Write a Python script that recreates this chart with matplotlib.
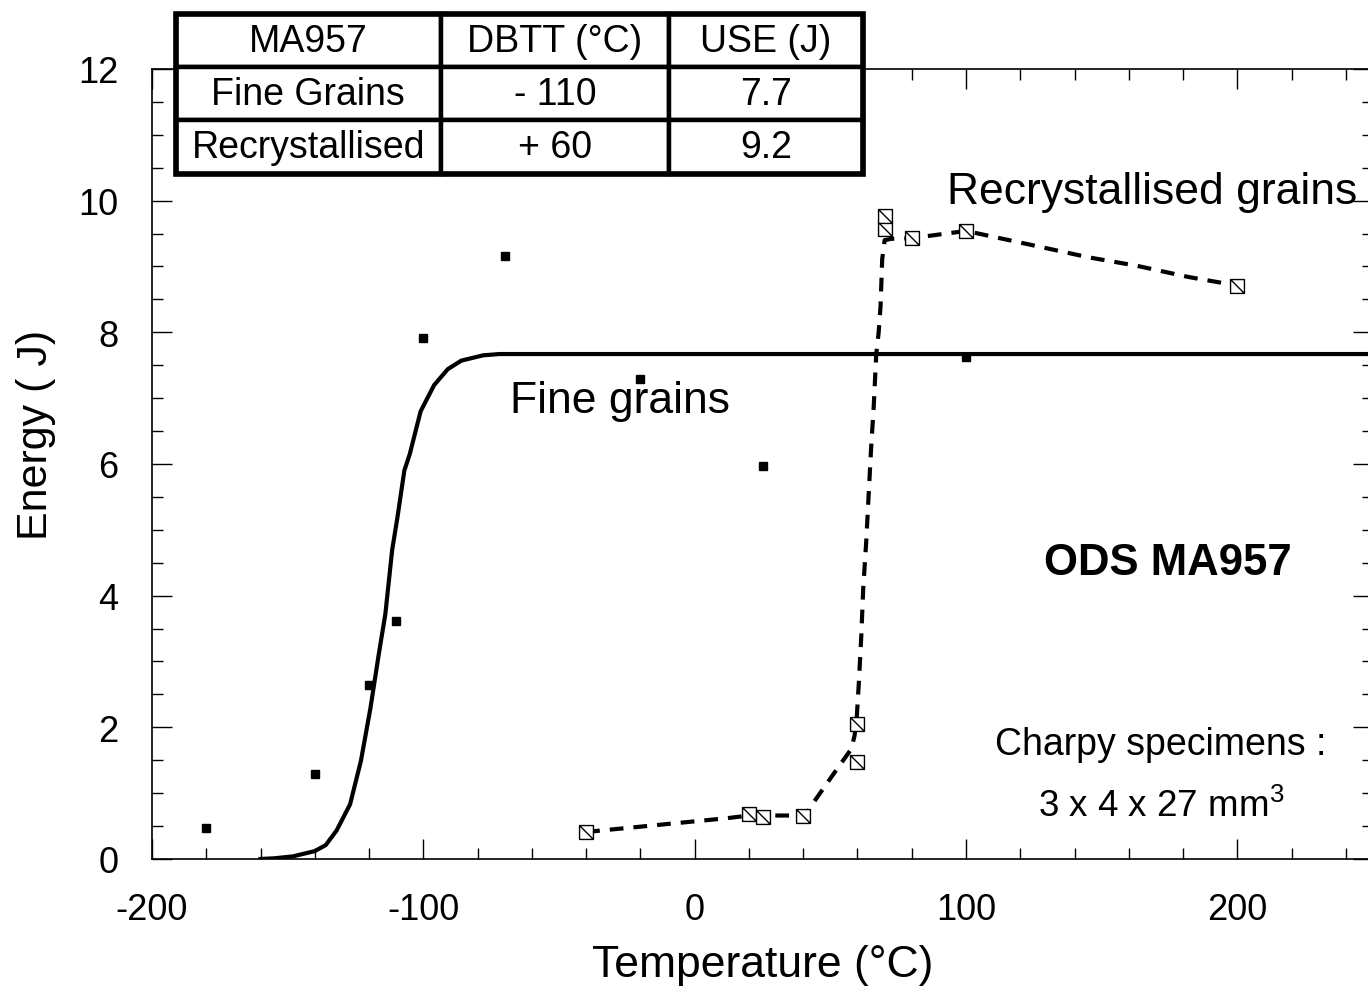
import matplotlib
matplotlib.use('Agg')
import matplotlib.pyplot as plt
from matplotlib.path import Path
from matplotlib.ticker import MultipleLocator

plt.rcParams['font.family'] = ['Liberation Sans', 'DejaVu Sans']
plt.rcParams['axes.unicode_minus'] = False
plt.rcParams['mathtext.fontset'] = 'custom'
plt.rcParams['mathtext.rm'] = 'Liberation Sans'
plt.rcParams['mathtext.it'] = 'Liberation Sans:italic'

# fine grains - measured charpy energies (filled squares)
fine_T = [-180, -140, -120, -110, -100, -70, -20, 25, 100]
fine_E = [0.47, 1.29, 2.64, 3.62, 7.91, 9.16, 7.29, 5.97, 7.63]

# fine grains - fitted transition curve (solid line)
fine_fit_T = [-160, -155, -148, -140, -136, -132, -127, -123, -119.5, -116.5, -114,
              -111.5, -109.5, -107, -105, -101, -96, -91, -86, -78, -72, 250]
fine_fit_E = [0.0, 0.01, 0.04, 0.12, 0.21, 0.43, 0.83, 1.49, 2.29, 3.09, 3.72,
              4.69, 5.2, 5.9, 6.15, 6.8, 7.2, 7.44, 7.57, 7.65, 7.67, 7.67]

# recrystallised grains - measured charpy energies (open squares)
recr_T = [-40, 20, 25, 40, 60, 60, 70, 70, 80, 100, 200]
recr_E = [0.41, 0.68, 0.64, 0.66, 1.48, 2.05, 9.57, 9.76, 9.43, 9.54, 8.71]

# recrystallised grains - fitted curve (dashed line)
recr_fit_T = [-40, 12, 20, 29, 41, 43.5, 50.8, 57.7, 58.9, 59.7, 60.5, 61.4, 62.1,
              63.2, 64.1, 65.0, 66.0, 66.9, 67.8, 68.5, 69.1, 70, 72.4, 80, 100,
              126, 145, 163, 182, 200]
recr_fit_E = [0.41, 0.62, 0.66, 0.66, 0.66, 0.84, 1.27, 1.67, 1.87, 2.13, 2.68, 3.39, 4.10,
              4.81, 5.52, 6.23, 6.89, 7.66, 8.0, 8.4, 9.11, 9.4, 9.42, 9.43, 9.54,
              9.31, 9.14, 9.01, 8.84, 8.71]

# summary table
table_cols = ['MA957', 'DBTT (°C)', 'USE (J)']
table_rows = [['Fine Grains', '- 110', '7.7'],
              ['Recrystallised', '+ 60', '9.2']]

# square with a diagonal from top-left to bottom-right
box_marker = Path([(-1, -1), (1, -1), (1, 1), (-1, 1), (-1, -1), (-1, 1), (1, -1)],
                  [Path.MOVETO, Path.LINETO, Path.LINETO, Path.LINETO, Path.CLOSEPOLY,
                   Path.MOVETO, Path.LINETO])

fig = plt.figure(figsize=(13.68, 9.87), dpi=100)
ax = fig.add_axes([0.1111, 0.1287, 0.8926, 0.8004])

ax.plot(fine_fit_T, fine_fit_E, color='black', lw=3.0, solid_joinstyle='round', zorder=2)
ax.plot(recr_fit_T, recr_fit_E, color='black', lw=3.0, linestyle=(0, (3.3, 2.4)), zorder=2)
ax.plot(fine_T, fine_E, linestyle='none', marker='s', markersize=6,
        color='black', zorder=3)
ax.plot(recr_T, recr_E, linestyle='none', marker=box_marker, markersize=10,
        markerfacecolor='white', markeredgecolor='black', markeredgewidth=1.0, zorder=3)

ax.set_xlim(-200, 250)
ax.set_ylim(0, 12)
ax.xaxis.set_major_locator(MultipleLocator(100))
ax.xaxis.set_minor_locator(MultipleLocator(20))
ax.yaxis.set_major_locator(MultipleLocator(2))
ax.yaxis.set_minor_locator(MultipleLocator(0.5))
ax.tick_params(which='both', direction='in', top=True, right=True, width=1.0)
ax.tick_params(which='major', length=14.5, labelsize=26, pad=24)
ax.tick_params(which='minor', length=8)
for sp in ax.spines.values():
    sp.set_linewidth(1.2)

ax.set_xlabel('Temperature (°C)', fontsize=32, labelpad=12)
ax.set_ylabel('Energy ( J)', fontsize=31)
ax.yaxis.set_label_coords(-0.0786, 0.538)

ax.text(168.7, 9.97, 'Recrystallised grains', ha='center', va='baseline', fontsize=32)
ax.text(-27.6, 6.79, 'Fine grains', ha='center', va='baseline', fontsize=32)
ax.text(174.2, 4.33, 'ODS MA957', ha='center', va='baseline', fontsize=31.5, fontweight='bold')
ax.text(171.6, 1.595, 'Charpy specimens :', ha='center', va='baseline', fontsize=27)
ax.text(171.8, 0.66, '3 x 4 x 27 mm$^3$', ha='center', va='baseline', fontsize=26.5)

# table sits on top of the plot, in its own axes
tax = fig.add_axes([0.1283, 0.8232, 0.5026, 0.1616])
tax.axis('off')
tab = tax.table(cellText=table_rows, colLabels=table_cols, colWidths=[0.386, 0.332, 0.282],
                cellLoc='center', bbox=[0, 0, 1, 1])
tab.auto_set_font_size(False)
tab.set_fontsize(27)
for key, cell in tab.get_celld().items():
    cell.set_edgecolor('black')
    cell.set_linewidth(3.2)
    cell.set_facecolor('white')
tax.add_patch(plt.Rectangle((0, 0), 1, 1, transform=tax.transAxes, fill=False,
                            edgecolor='black', lw=4.0, clip_on=False, zorder=5))

fig.savefig('out.png', dpi=100)
